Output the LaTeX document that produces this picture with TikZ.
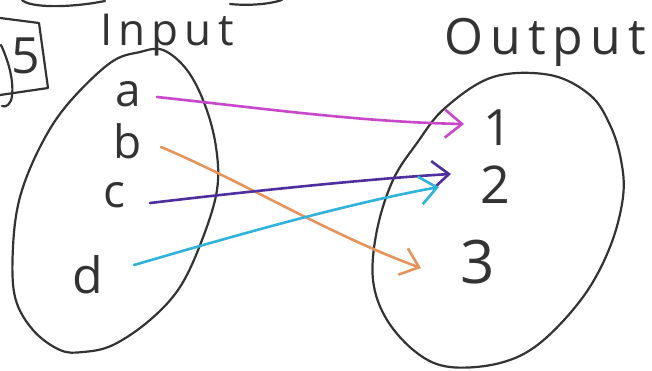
\documentclass[tikz,border=0pt]{standalone}
\usepackage{fontspec}
\newfontfamily\hand[LetterSpace=14]{Open Sans}
\usetikzlibrary{arrows.meta}
\definecolor{ink}{HTML}{333333}
\definecolor{cmag}{HTML}{C748C9}
\definecolor{corg}{HTML}{E5955C}
\definecolor{cpur}{HTML}{4F2E9E}
\definecolor{ccya}{HTML}{2FB3DA}
\tikzset{
  outline/.style={draw=ink, line width=2.2pt, line cap=round, line join=round},
  label/.style={text=ink, font=\hand\fontsize{46}{50}\selectfont, inner sep=0pt},
  title/.style={text=ink, font=\hand\fontsize{44}{50}\selectfont, inner sep=0pt},
  maparrow/.style={line width=2.6pt, line cap=round,
    -{Straight Barb[length=17pt,width=28pt,line width=2.6pt]}}
}
\begin{document}
\begin{tikzpicture}[x=1pt,y=-1pt]
\useasboundingbox (0,0) rectangle (652,370);
\fill[white] (0,0) rectangle (652,370);

% top partial curves
\draw[outline] (22,0) .. controls (30,8) and (70,8) .. (105,1);
\draw[outline] (230,4) .. controls (250,6) and (270,4) .. (282,0);

% top-left partial box
\draw[outline] (0,18) -- (39,23) -- (48,88) -- (0,95);
\draw[outline] (1,45) .. controls (8,60) and (14,80) .. (12,96) .. controls (11,104) and (6,108) .. (2,106);
\node[title, font=\hand\fontsize{50}{54}\selectfont] (five) at (26,56) {5};

% titles
\node[title] (input) at (167,35) {Input};
\node[title, font=\hand\fontsize{50}{56}\selectfont] (output) at (545,42) {Output};

% sets
\draw[outline] plot[smooth cycle, tension=0.6] coordinates {
  (163,50) (187,70) (205,105) (216,147) (217,190) (202,240) (180,287)
  (150,320) (113,345) (83,352) (60,350) (33,330) (15,297) (13,247)
  (20,197) (40,147) (67,105) (110,63) (140,52)};
\draw[outline] plot[smooth cycle, tension=0.6] coordinates {
  (493,77) (550,75) (590,95) (610,125) (621,160) (623,197) (610,247)
  (583,297) (540,343) (500,363) (450,367) (417,353) (387,320) (373,280)
  (377,230) (393,180) (417,143) (445,108)};

% elements
\node[label] (a) at (128,94) {a};
\node[label] (b) at (128,141) {b};
\node[label] (c) at (114,195) {c};
\node[label, font=\hand\fontsize{50}{54}\selectfont] (d) at (88,275) {d};
\node[label, font=\hand\fontsize{50}{54}\selectfont] (n1) at (498,128) {1};
\node[label, font=\hand\fontsize{52}{56}\selectfont] (n2) at (495,185) {2};
\node[label, font=\hand\fontsize{60}{64}\selectfont] (n3) at (478,262) {3};

% arrow ends
\coordinate (atail) at (157,97);
\coordinate (btail) at (161,147);
\coordinate (ctail) at (150,203);
\coordinate (dtail) at (134,265);
\coordinate (ahead) at (464,124);
\coordinate (bhead) at (421,268);
\coordinate (chead) at (451,174);
\coordinate (dhead) at (439,187);

\draw[maparrow, draw=cmag] (atail) .. controls (260,108) and (360,122) .. (ahead);
\draw[maparrow, draw=corg] (btail) .. controls (240,180) and (330,235) .. (bhead);
\draw[maparrow, draw=cpur] (ctail) .. controls (260,190) and (380,178) .. (chead);
\draw[maparrow, draw=ccya] (dtail) .. controls (220,240) and (340,205) .. (dhead);
\end{tikzpicture}
\end{document}
